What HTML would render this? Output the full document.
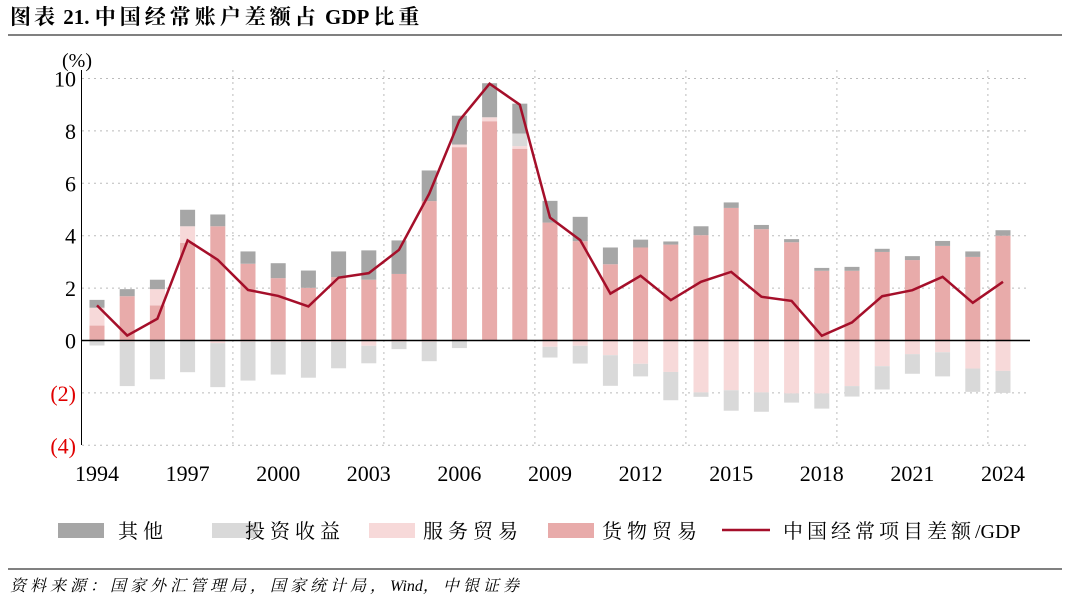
<!DOCTYPE html>
<html><head><meta charset="utf-8">
<style>
body{margin:0;background:#fff;width:1080px;height:604px;overflow:hidden;font-family:"Liberation Serif","Noto Serif CJK SC",serif;}
svg text{font-family:"Liberation Serif","Noto Serif CJK SC",serif;}
</style></head>
<body>
<svg id="c" width="1080" height="604">
<text x="10" y="24" font-size="21" font-weight="bold" fill="#000"><tspan letter-spacing="3">图表</tspan> 21. <tspan letter-spacing="4">中国经常账户差额占</tspan> GDP <tspan letter-spacing="4">比重</tspan></text>
<line x1="8" y1="35" x2="1062" y2="35" stroke="#000" stroke-width="1"/>
<text x="62" y="67" font-size="20">(%)</text>
<g id="grid"></g><g id="bars"></g><g id="line"></g><g id="axes"></g><g id="legend"></g>
<line x1="8" y1="569" x2="1062" y2="569" stroke="#000" stroke-width="1"/>
<text x="10" y="591" font-size="16" font-style="italic"><tspan letter-spacing="4">资料来源：国家外汇管理局，国家统计局，</tspan>Wind<tspan letter-spacing="4">，中银证券</tspan></text>
</svg>
<script>
const years=[1994,1995,1996,1997,1998,1999,2000,2001,2002,2003,2004,2005,2006,2007,2008,2009,2010,2011,2012,2013,2014,2015,2016,2017,2018,2019,2020,2021,2022,2023,2024];
const goods=[0.57,1.69,1.34,3.73,4.36,2.93,2.38,2.01,2.42,2.32,2.54,5.32,7.38,8.37,7.32,4.5,3.79,2.91,3.55,3.66,4.02,5.06,4.25,3.75,2.66,2.66,3.38,3.07,3.61,3.19,4.0];
const services=[0.68,-0.05,0.62,0.63,-0.1,-0.05,-0.05,-0.05,-0.05,-0.2,-0.05,-0.05,0.1,0.15,0.1,-0.24,-0.2,-0.56,-0.89,-1.2,-1.98,-1.9,-1.98,-2.02,-2.02,-1.74,-0.98,-0.52,-0.45,-1.07,-1.16];
const income=[-0.19,-1.69,-1.48,-1.21,-1.68,-1.48,-1.25,-1.37,-1.01,-0.67,-0.28,-0.74,-0.29,0,0.48,-0.41,-0.68,-1.17,-0.48,-1.08,-0.17,-0.78,-0.74,-0.35,-0.58,-0.4,-0.89,-0.75,-0.92,-0.89,-0.84];
const other=[0.3,0.27,0.36,0.63,0.45,0.47,0.57,0.66,0.98,1.12,1.28,1.17,1.1,1.3,1.14,0.83,0.93,0.64,0.3,0.12,0.34,0.21,0.16,0.12,0.11,0.15,0.12,0.15,0.19,0.21,0.21];
const caGdp=[1.34,0.19,0.83,3.82,3.08,1.93,1.7,1.3,2.4,2.57,3.46,5.6,8.4,9.8,9.0,4.69,3.83,1.79,2.47,1.54,2.24,2.62,1.67,1.51,0.18,0.69,1.69,1.92,2.43,1.44,2.24];
const yTicks=[10,8,6,4,2,0,-2,-4];
const xTickYears=[1994,1997,2000,2003,2006,2009,2012,2015,2018,2021,2024];
const NS="http://www.w3.org/2000/svg";
const x=y=>97+(y-1994)*30.2;
const yv=v=>340.5-v*26.2;
function mk(tag,attrs,parent){const e=document.createElementNS(NS,tag);for(const k in attrs)e.setAttribute(k,attrs[k]);document.getElementById(parent).appendChild(e);return e;}
yTicks.forEach(t=>{if(t!==0){const g=mk('line',{x1:82,x2:1030,y1:yv(t),y2:yv(t),stroke:'#bbb','stroke-dasharray':'2,4'},'grid');

}
const lb=mk('text',{x:76,y:yv(t)+8,'font-size':22,'text-anchor':'end',fill:t<0?'#e00000':'#000'},'axes');lb.textContent=t<0?'('+(-t)+')':t;

});
for(let yy=1998.5;yy<2025;yy+=5){const g=mk('line',{x1:x(yy),x2:x(yy),y1:70,y2:445,stroke:'#bbb','stroke-dasharray':'2,4'},'grid');

}
const cols={goods:'#e8abaa',services:'#f7d9d9',income:'#d9d9d9',other:'#a6a6a6'};
const series={goods,services,income,other};
years.forEach((yr,i)=>{let pos=0,neg=0;['goods','services','income','other'].forEach(k=>{const v=series[k][i];if(!v)return;let y0,y1;
if(v>0){y0=pos;y1=pos+v;pos=y1;}else{y0=neg;y1=neg+v;neg=y1;}
const r=mk('rect',{x:x(yr)-7.5,width:15,y:Math.min(yv(y0),yv(y1)),height:Math.abs(yv(y1)-yv(y0)),fill:cols[k]},'bars');

});});
const pl=mk('polyline',{points:years.map((yr,i)=>x(yr)+','+yv(caGdp[i])).join(' '),fill:'none',stroke:'#a50f2a','stroke-width':2.5},'line');


const ax=mk('line',{x1:81.5,x2:81.5,y1:70,y2:445,stroke:'#000'},'axes');


const zx=mk('line',{x1:82,x2:1030,y1:yv(0),y2:yv(0),stroke:'#000','stroke-width':1.5},'axes');


xTickYears.forEach(yr=>{const t=mk('text',{x:x(yr),y:481,'font-size':22,'text-anchor':'middle'},'axes');t.textContent=yr;

});
const leg=[['其他',cols.other,58,118],['投资收益',cols.income,212,245],['服务贸易',cols.services,369,423],['货物贸易',cols.goods,548,602]];
leg.forEach(([n,c,lx,tx])=>{const r=mk('rect',{x:lx,y:523,width:46,height:15,fill:c},'legend');


const t=mk('text',{x:tx,y:538,'font-size':20,'letter-spacing':5},'legend');t.textContent=n;

});
const ll=mk('line',{x1:722,x2:770,y1:530,y2:530,stroke:'#a50f2a','stroke-width':2.5},'legend');


const lt=mk('text',{x:783,y:538,'font-size':20},'legend');lt.innerHTML='<tspan letter-spacing="4">中国经常项目差额</tspan>/GDP';


</script>
</body></html>
